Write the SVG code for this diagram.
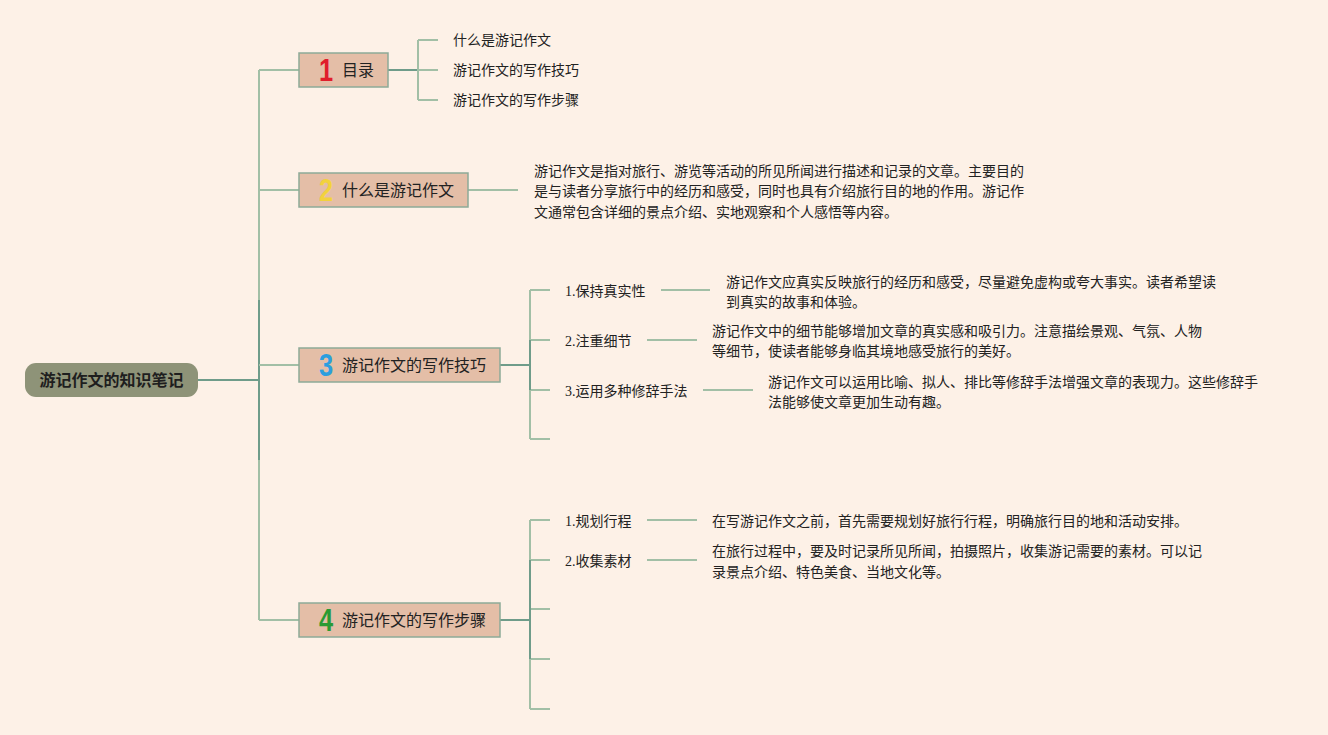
<svg xmlns="http://www.w3.org/2000/svg" width="1328" height="735" viewBox="0 0 1328 735">
<style>
.bg{fill:#fdf1e7}
.box{fill:#e4bea7;stroke:#8daa98;stroke-width:1.5}
.root{fill:#8e9378}
.ln{fill:none;stroke:#a2bfa6;stroke-width:2}
.lnd{fill:none;stroke:#6f9c8a;stroke-width:2}
.bt{font-family:"Noto Sans CJK SC","Noto Sans",sans-serif;font-size:16px;fill:#222}
.rt{font-family:"Noto Sans CJK SC","Noto Sans",sans-serif;font-size:16px;font-weight:bold;fill:#1e1e1e}
.num{font-family:"Liberation Sans","DejaVu Sans",sans-serif;font-size:31px;font-weight:bold}
.t{font-family:"Noto Sans CJK SC","Noto Sans",sans-serif;font-size:14px;fill:#222}
.lb{font-family:"Liberation Serif","Noto Sans CJK SC",serif;font-size:14px;fill:#222}
</style>
<rect class="bg" x="0" y="0" width="1328" height="735"/>
<g id="connectors">
<path class="lnd" d="M198,380 H259"/>
<path class="ln" d="M259,70 V620"/>
<path class="lnd" d="M259,300 V460"/>
<path class="ln" d="M259,70 H299 M259,190 H299 M259,365 H299 M259,620 H299"/>
<path class="lnd" d="M388,70 H418"/>
<path class="ln" d="M418,40 V100 M418,40 H438 M418,70 H438 M418,100 H438"/>
<path class="ln" d="M468,190 H518"/>
<path class="lnd" d="M500,365 H530"/>
<path class="ln" d="M530,290 V439 M530,290 H550 M530,340 H550 M530,390 H550 M530,439 H550"/>
<path class="lnd" d="M530,340 V390"/>
<path class="ln" d="M661,290 H710 M647,340 H697 M703,390 H753"/>
<path class="lnd" d="M500,620 H530"/>
<path class="ln" d="M530,520 V709 M530,520 H550 M530,560 H550 M530,609 H550 M530,659 H550 M530,709 H550"/>
<path class="lnd" d="M530,560 V659"/>
<path class="ln" d="M647,520 H697 M647,560 H697"/>
</g>
<g id="root">
<rect class="root" x="25" y="363" width="173" height="34" rx="11"/>
<text class="rt" x="111.5" y="386" text-anchor="middle">游记作文的知识笔记</text>
</g>
<g id="n1">
<rect class="box" x="299" y="53" width="89" height="34"/>
<text class="num" transform="translate(326,81) scale(0.82,1)" text-anchor="middle" fill="#e01e2c">1</text>
<text class="bt" x="342" y="76">目录</text>
</g>
<g id="n1-leaves">
<text class="t" x="453" y="45">什么是游记作文</text>
<text class="t" x="453" y="75">游记作文的写作技巧</text>
<text class="t" x="453" y="105">游记作文的写作步骤</text>
</g>
<g id="n2">
<rect class="box" x="299" y="173" width="169" height="34"/>
<text class="num" transform="translate(326,201) scale(0.82,1)" text-anchor="middle" fill="#f2d23c">2</text>
<text class="bt" x="342" y="196">什么是游记作文</text>
</g>
<g id="n2-text">
<text class="t" x="534" y="176">游记作文是指对旅行、游览等活动的所见所闻进行描述和记录的文章。主要目的</text>
<text class="t" x="534" y="196">是与读者分享旅行中的经历和感受，同时也具有介绍旅行目的地的作用。游记作</text>
<text class="t" x="534" y="217">文通常包含详细的景点介绍、实地观察和个人感悟等内容。</text>
</g>
<g id="n3">
<rect class="box" x="299" y="348" width="201" height="34"/>
<text class="num" transform="translate(326,376) scale(0.82,1)" text-anchor="middle" fill="#2b9ede">3</text>
<text class="bt" x="342" y="371">游记作文的写作技巧</text>
</g>
<g id="n3-1">
<text class="lb" x="565" y="296">1.保持真实性</text>
<text class="t" x="726" y="287">游记作文应真实反映旅行的经历和感受，尽量避免虚构或夸大事实。读者希望读</text>
<text class="t" x="726" y="307">到真实的故事和体验。</text>
</g>
<g id="n3-2">
<text class="lb" x="565" y="346">2.注重细节</text>
<text class="t" x="712" y="336">游记作文中的细节能够增加文章的真实感和吸引力。注意描绘景观、气氛、人物</text>
<text class="t" x="712" y="356">等细节，使读者能够身临其境地感受旅行的美好。</text>
</g>
<g id="n3-3">
<text class="lb" x="565" y="396">3.运用多种修辞手法</text>
<text class="t" x="768" y="387">游记作文可以运用比喻、拟人、排比等修辞手法增强文章的表现力。这些修辞手</text>
<text class="t" x="768" y="407">法能够使文章更加生动有趣。</text>
</g>
<g id="n4">
<rect class="box" x="299" y="603" width="201" height="34"/>
<text class="num" transform="translate(326,631) scale(0.82,1)" text-anchor="middle" fill="#2a9a33">4</text>
<text class="bt" x="342" y="626">游记作文的写作步骤</text>
</g>
<g id="n4-1">
<text class="lb" x="565" y="526">1.规划行程</text>
<text class="t" x="712" y="526">在写游记作文之前，首先需要规划好旅行行程，明确旅行目的地和活动安排。</text>
</g>
<g id="n4-2">
<text class="lb" x="565" y="566">2.收集素材</text>
<text class="t" x="712" y="556">在旅行过程中，要及时记录所见所闻，拍摄照片，收集游记需要的素材。可以记</text>
<text class="t" x="712" y="577">录景点介绍、特色美食、当地文化等。</text>
</g>
</svg>
